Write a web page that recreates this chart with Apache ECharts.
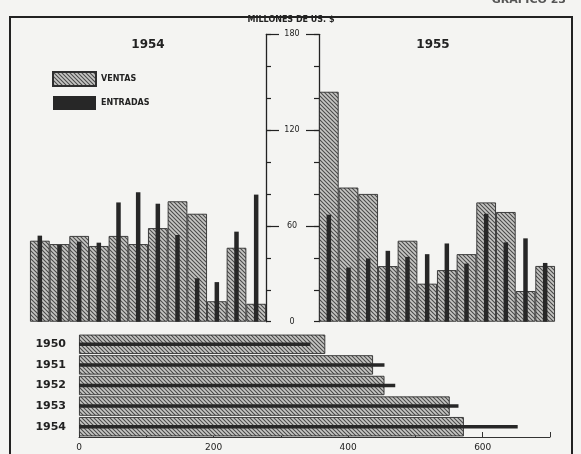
<!DOCTYPE html>
<html>
<head>
<meta charset="utf-8">
<script src="https://cdn.jsdelivr.net/npm/echarts@6/dist/echarts.min.js"></script>
<style>
html,body{margin:0;padding:0;background:#f4f4f2;}
#c{width:581px;height:454px;}
</style>
</head>
<body>
<div id="c"></div>
<script>
var months = ['Ene','Feb','Mar','Abr','May','Jun','Jul','Ago','Sep','Oct','Nov','Dic'];
var ventas1954 = [50.7, 48.6, 53.7, 47.4, 53.7, 48.6, 58.6, 75.4, 67.6, 12.8, 46.3, 11.2];
var entradas1954 = [53.9, 48.0, 50.1, 49.5, 74.7, 81.0, 73.9, 54.3, 27.2, 24.8, 56.4, 79.6];
var ventas1955 = [144.0, 84.0, 80.0, 34.8, 50.7, 23.8, 32.3, 42.3, 74.7, 68.7, 19.2, 34.9];
var entradas1955 = [67.0, 33.9, 39.6, 44.4, 40.6, 42.3, 49.0, 36.4, 67.6, 49.7, 52.2, 36.8];
var years = ['1950','1951','1952','1953','1954'];
var ventasAnual = [366, 437, 454, 551, 572];
var entradasAnual = [344, 454, 470, 564, 652];
var monthTicks = [0, 60, 120, 180];
var annualTicks = [0, 200, 400, 600];

function hatch() {
  var s = 4;
  var cv = document.createElement('canvas');
  cv.width = s; cv.height = s;
  var g = cv.getContext('2d');
  g.fillStyle = '#c6c6c4';
  g.fillRect(0, 0, s, s);
  g.strokeStyle = '#4a4a4a';
  g.lineWidth = 1.1;
  for (var k = -1; k <= 1; k++) {
    g.beginPath();
    g.moveTo(-1, -1 + k * s);
    g.lineTo(s + 1, s + 1 + k * s);
    g.stroke();
  }
  return {image: cv, repeat: 'repeat'};
}
var pat = hatch();
var dark = '#272727';
var ventasStyle = {color: pat, borderColor: '#2e2e2e', borderWidth: 0.9};
var entradasStyle = {color: dark};

var chart = echarts.init(document.getElementById('c'), null, {renderer: 'canvas'});
var hiddenCat = function (gi, data) {
  return {type: 'category', gridIndex: gi, data: data, show: false};
};
var option = {
  backgroundColor: '#f4f4f2',
  animation: false,
  textStyle: {fontFamily: 'DejaVu Sans'},
  legend: {
    data: ['VENTAS', 'ENTRADAS'],
    orient: 'vertical',
    left: 47, top: 66,
    itemWidth: 43, itemHeight: 14, itemGap: 9,
    icon: 'rect',
    textStyle: {fontSize: 8, fontWeight: 'bold', color: '#222'}
  },
  grid: [
    {left: 30, top: 34.3, width: 236, height: 287.4},
    {left: 319, top: 34.3, width: 236, height: 287.4},
    {left: 79, top: 334, width: 471, height: 103}
  ],
  xAxis: [
    hiddenCat(0, months),
    hiddenCat(0, months),
    hiddenCat(1, months),
    hiddenCat(1, months),
    {type: 'value', gridIndex: 2, min: 0, max: 700, interval: 100,
     axisLine: {show: true, lineStyle: {color: '#333', width: 1}},
     axisTick: {show: true, inside: true, length: 5, lineStyle: {color: '#333'}},
     axisLabel: {fontSize: 9, color: '#222', margin: 6,
       formatter: function (v) { return annualTicks.indexOf(v) >= 0 ? String(v) : ''; }},
     splitLine: {show: false}}
  ],
  yAxis: [
    {type: 'value', gridIndex: 0, position: 'right', min: 0, max: 180, interval: 20,
     axisLine: {show: true, lineStyle: {color: '#222', width: 1.3}},
     axisTick: {show: true, length: 5, lineStyle: {color: '#222', width: 1.2}},
     axisLabel: {show: false}, splitLine: {show: false}},
    {type: 'value', gridIndex: 0, position: 'right', min: 0, max: 180, interval: 60,
     axisLine: {show: false},
     axisTick: {show: true, length: 13, customValues: [60, 120, 180], lineStyle: {color: '#222', width: 1.2}},
     axisLabel: {show: false}, splitLine: {show: false}},
    {type: 'value', gridIndex: 1, position: 'left', min: 0, max: 180, interval: 20,
     axisLine: {show: true, lineStyle: {color: '#222', width: 1.3}},
     axisTick: {show: true, length: 5, lineStyle: {color: '#222', width: 1.2}},
     axisLabel: {show: true, align: 'center', margin: 27, fontSize: 8, color: '#222',
       formatter: function (v) { return monthTicks.indexOf(v) >= 0 ? String(v) : ''; }},
     splitLine: {show: false}},
    {type: 'value', gridIndex: 1, position: 'left', min: 0, max: 180, interval: 60,
     axisLine: {show: false},
     axisTick: {show: true, length: 13, customValues: [60, 120, 180], lineStyle: {color: '#222', width: 1.2}},
     axisLabel: {show: false}, splitLine: {show: false}},
    {type: 'category', gridIndex: 2, data: years, inverse: true,
     axisLine: {show: false}, axisTick: {show: false},
     axisLabel: {fontSize: 11, fontWeight: 'bold', color: '#222', margin: 13}},
    {type: 'category', gridIndex: 2, data: years, inverse: true, show: false}
  ],
  series: [
    {name: 'VENTAS', type: 'bar', xAxisIndex: 0, yAxisIndex: 0, data: ventas1954,
     barCategoryGap: '0%', itemStyle: ventasStyle},
    {name: 'ENTRADAS', type: 'bar', xAxisIndex: 1, yAxisIndex: 0, data: entradas1954,
     barWidth: 4.5, itemStyle: entradasStyle},
    {name: 'VENTAS', type: 'bar', xAxisIndex: 2, yAxisIndex: 2, data: ventas1955,
     barCategoryGap: '0%', itemStyle: ventasStyle},
    {name: 'ENTRADAS', type: 'bar', xAxisIndex: 3, yAxisIndex: 2, data: entradas1955,
     barWidth: 4.5, itemStyle: entradasStyle},
    {name: 'VENTAS', type: 'bar', xAxisIndex: 4, yAxisIndex: 4, data: ventasAnual,
     barCategoryGap: '6%', itemStyle: ventasStyle},
    {name: 'ENTRADAS', type: 'bar', xAxisIndex: 4, yAxisIndex: 5, data: entradasAnual,
     barWidth: 3.5, itemStyle: entradasStyle}
  ],
  graphic: [
    {type: 'rect', shape: {x: 10, y: 17, width: 562, height: 450},
     style: {fill: 'none', stroke: '#222', lineWidth: 2}, silent: true, z: -1},
    {type: 'text', x: 291, y: 20, style: {text: 'MILLONES DE US. $', font: 'bold 8px "DejaVu Sans"',
      fill: '#222', textAlign: 'center', textVerticalAlign: 'middle'}},
    {type: 'text', x: 148, y: 45, style: {text: '1954', font: 'bold 12px "DejaVu Sans"',
      fill: '#222', textAlign: 'center', textVerticalAlign: 'middle'}},
    {type: 'text', x: 433, y: 45, style: {text: '1955', font: 'bold 12px "DejaVu Sans"',
      fill: '#222', textAlign: 'center', textVerticalAlign: 'middle'}},
    {type: 'text', x: 566, y: 0, style: {text: 'GRAFICO 23', font: 'bold 11px "DejaVu Sans"',
      fill: '#555', textAlign: 'right', textVerticalAlign: 'middle'}}
  ]
};
chart.setOption(option);
</script>
</body>
</html>
